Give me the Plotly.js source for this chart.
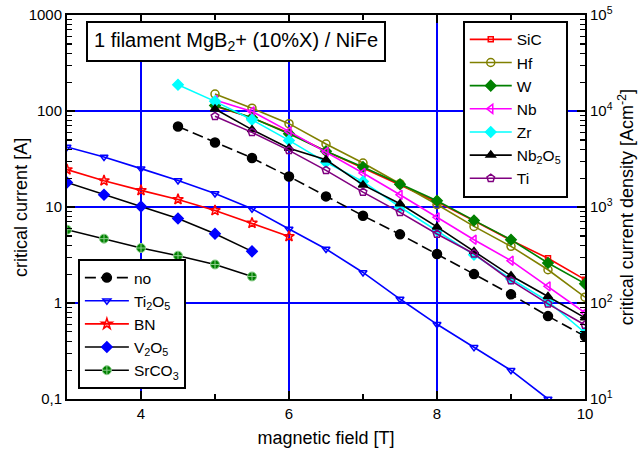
<!DOCTYPE html>
<html>
<head>
<meta charset="utf-8">
<script src="https://cdn.plot.ly/plotly-3.0.1.min.js"></script>
<style>html,body{margin:0;padding:0;background:#fff;}#chart{width:638px;height:452px;}</style>
</head>
<body>
<div id="chart"></div>
<script>
// magnetic field values [T]
const fieldNo    = [4.5, 5, 5.5, 6, 6.5, 7, 7.5, 8, 8.5, 9, 9.5, 10];
const fieldTi2O5 = [3, 3.5, 4, 4.5, 5, 5.5, 6, 6.5, 7, 7.5, 8, 8.5, 9, 9.5];
const fieldLow   = [3, 3.5, 4, 4.5, 5, 5.5];
const fieldBN    = [3, 3.5, 4, 4.5, 5, 5.5, 6];
const fieldHigh  = [5, 5.5, 6, 6.5, 7, 7.5, 8, 8.5, 9, 9.5, 10];
const fieldZr    = [4.5, 5, 5.5, 6, 6.5, 7, 7.5, 8, 8.5, 9, 9.5, 10];

// critical current [A]
const icNo     = [69, 47, 32.4, 20.8, 12.9, 8.1, 5.19, 3.24, 2.0, 1.23, 0.73, 0.45];
const icTi2O5  = [42.2, 33.2, 25.1, 18.9, 13.8, 9.6, 5.9, 3.65, 2.08, 1.10, 0.60, 0.345, 0.199, 0.1];
const icBN     = [24.5, 18.8, 14.9, 12.0, 9.2, 6.8, 4.94];
const icV2O5   = [18.0, 13.4, 10.1, 7.6, 5.27, 3.45];
const icSrCO3  = [5.8, 4.68, 3.74, 3.11, 2.52, 1.89];
const icSiC    = [112, 85, 59, 38, 25.5, 17, 11.3, 7.2, 4.5, 2.92, 1.75];
const icHf     = [150, 107, 73.8, 45.3, 28.7, 17.5, 10.6, 6.28, 3.89, 2.22, 1.15];
const icW      = [114, 85, 58, 38, 26.1, 17.3, 11.6, 7.25, 4.56, 2.61, 1.59];
const icNb     = [130, 99, 61.3, 37.4, 22.6, 13.4, 7.8, 4.56, 2.76, 1.49, 0.79];
const icZr     = [188, 126, 81, 49.4, 29.2, 18.4, 10, 5.66, 3.18, 1.79, 1.04, 0.49];
const icNb2O5  = [105, 64, 41, 31, 17, 10.8, 6.2, 3.45, 1.92, 1.17, 0.70];
const icTi     = [88, 59.9, 38.9, 24.1, 14.3, 8.8, 5.23, 3.26, 1.71, 0.98, 0.59];

// tick labels (right axis: critical current density)
const rightTickVals = [10, 100, 1000, 10000, 100000];
const rightTickText = ['10<sup>1</sup>', '10<sup>2</sup>', '10<sup>3</sup>', '10<sup>4</sup>', '10<sup>5</sup>'];

const F = '"Liberation Sans", Arial, sans-serif';

function tr(name, x, y, color, lineColor, symbol, size, legend, extra) {
  const t = {
    type: 'scatter', mode: 'lines+markers', name: name, x: x, y: y,
    line: {color: lineColor, width: 1.6},
    marker: {symbol: symbol, size: size, color: color, line: {color: color, width: 1.5}},
    legend: legend, cliponaxis: true
  };
  if (extra) { if (extra.dash) t.line.dash = extra.dash; if (extra.mline) t.marker.line = extra.mline; }
  return t;
}

const data = [
  tr('SiC', fieldHigh, icSiC, '#FF0000', '#FF0000', 'square-open', 5, 'legend'),
  tr('Hf', fieldHigh, icHf, '#808000', '#808000', 'circle-open', 8, 'legend'),
  tr('W', fieldHigh, icW, '#008000', '#008000', 'diamond', 8, 'legend'),
  tr('Nb', fieldHigh, icNb, '#FF00FF', '#FF00FF', 'triangle-left-open', 8, 'legend'),
  tr('Zr', fieldZr, icZr, '#00FFFF', '#00FFFF', 'diamond', 8, 'legend'),
  tr('Nb<sub>2</sub>O<sub>5</sub>', fieldHigh, icNb2O5, '#000000', '#000000', 'triangle-up', 8, 'legend'),
  tr('Ti', fieldHigh, icTi, '#800080', '#800080', 'pentagon-open', 8, 'legend'),
  tr('no', fieldNo, icNo, '#000000', '#000000', 'circle', 9, 'legend2', {dash: '11px,5px'}),
  tr('Ti<sub>2</sub>O<sub>5</sub>', fieldTi2O5, icTi2O5, '#0000FF', '#0000FF', 'triangle-down-open', 7, 'legend2'),
  tr('BN', fieldBN, icBN, '#FF0000', '#FF0000', 'star-open', 8, 'legend2'),
  tr('V<sub>2</sub>O<sub>5</sub>', fieldLow, icV2O5, '#0000FF', '#000000', 'diamond', 8, 'legend2'),
  tr('SrCO<sub>3</sub>', fieldLow, icSrCO3, '#008000', '#000000', 'circle-cross', 9, 'legend2', {mline: {color: '#8fcf8f', width: 1}}),
  // empty traces so the right-hand axes are created
  {type: 'scatter', x: [], y: [], yaxis: 'y2', showlegend: false, hoverinfo: 'skip'},
  {type: 'scatter', x: [], y: [], yaxis: 'y3', showlegend: false, hoverinfo: 'skip'}
];

const tickF = {family: F, size: 15, color: '#000'};
const axisCommon = {
  showline: true, linecolor: '#000', linewidth: 2,
  ticks: 'inside', ticklen: 8, tickwidth: 1.5, tickcolor: '#000',
  zeroline: false, tickfont: tickF
};
const minorT = {ticks: 'inside', ticklen: 5, tickwidth: 1.2, tickcolor: '#000', showgrid: false};

const layout = {
  width: 638, height: 452,
  margin: {l: 67, r: 53, t: 15, b: 53},
  paper_bgcolor: '#fff', plot_bgcolor: '#fff',
  font: {family: F, color: '#000'},
  separators: ',.',
  showlegend: true,
  xaxis: Object.assign({}, axisCommon, {
    range: [3, 10], tick0: 0, dtick: 2, mirror: 'ticks',
    showgrid: true, gridcolor: '#0000FF', gridwidth: 2,
    minor: Object.assign({dtick: 1}, minorT),
    title: {text: 'magnetic field [T]', font: {family: F, size: 18}, standoff: 10}
  }),
  yaxis: Object.assign({}, axisCommon, {
    type: 'log', range: [-1, 3], dtick: 1,
    showgrid: true, gridcolor: '#0000FF', gridwidth: 2,
    minor: minorT
  }),
  yaxis2: Object.assign({}, axisCommon, {
    type: 'log', range: [1, 5], overlaying: 'y', side: 'right',
    tickmode: 'array', tickvals: rightTickVals, ticktext: rightTickText, showgrid: false,
    title: {text: 'critical current density [Acm<sup>-2</sup>]', font: {family: F, size: 18}, standoff: 9}
  }),
  yaxis3: Object.assign({}, axisCommon, {
    type: 'log', range: [1, 5], overlaying: 'y', side: 'right', dtick: 1,
    showticklabels: false, showgrid: false, minor: minorT
  }),
  legend: {
    x: 0.764, y: 0.985, xanchor: 'left', yanchor: 'top',
    bgcolor: '#fff', bordercolor: '#000', borderwidth: 2,
    font: {family: F, size: 15.5}, itemwidth: 42, tracegroupgap: 0
  },
  legend2: {
    x: 0.021, y: 0.026, xanchor: 'left', yanchor: 'bottom',
    bgcolor: '#fff', bordercolor: '#000', borderwidth: 2,
    font: {family: F, size: 15.5}, itemwidth: 44, tracegroupgap: 0
  },
  annotations: [{
    xref: 'paper', yref: 'paper', x: 0.326, y: 0.93, xanchor: 'center', yanchor: 'middle',
    text: '1 filament MgB<sub>2</sub>+ (10%X) / NiFe', showarrow: false,
    font: {family: F, size: 20, color: '#000'},
    bordercolor: '#000', borderwidth: 2, borderpad: 6, bgcolor: '#fff'
  }, {
    xref: 'paper', yref: 'paper', x: -0.089, y: 0.5, xanchor: 'center', yanchor: 'middle',
    text: 'critical current [A]', textangle: -90, showarrow: false,
    font: {family: F, size: 18, color: '#000'}
  }]
};

Plotly.newPlot('chart', data, layout, {staticPlot: true, displayModeBar: false});
</script>
</body>
</html>
